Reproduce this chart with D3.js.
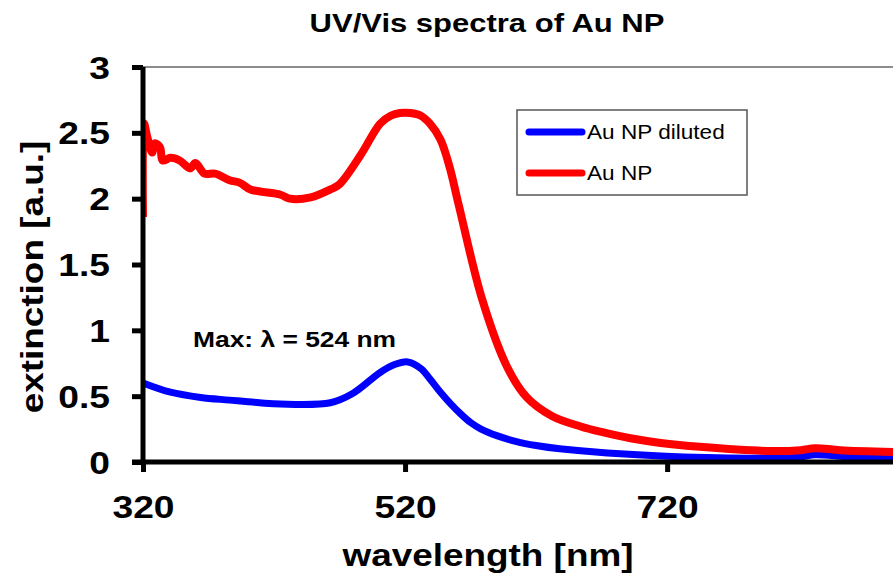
<!DOCTYPE html>
<html>
<head>
<meta charset="utf-8">
<script src="https://cdn.jsdelivr.net/npm/d3@7"></script>
<style>
  body { margin: 0; background: #fff; }
  svg { font-family: Arial, 'Liberation Sans', sans-serif; }
</style>
</head>
<body>
<div id="chart"></div>
<script>
// values

const dilutedNm  = [320, 341, 364, 386, 409, 425, 463, 480, 501, 512, 522, 532, 539, 547, 555, 563, 570, 578, 590, 605, 620, 638, 715, 799, 822, 833, 860, 893];
const dilutedExt = [0.60, 0.53, 0.49, 0.47, 0.45, 0.44, 0.45, 0.52, 0.68, 0.74, 0.76, 0.71, 0.63, 0.53, 0.44, 0.36, 0.30, 0.25, 0.20, 0.155, 0.125, 0.10, 0.045, 0.03, 0.04, 0.055, 0.04, 0.04];

const npNm  = [320, 320.8, 323, 327, 329, 333, 335, 341, 348, 356, 360, 367, 375, 386, 394, 402, 425, 432, 448, 463, 470, 486, 501, 509, 516, 524, 532, 539, 547, 554, 561, 579, 598, 613, 632, 654, 669, 692, 715, 745, 799, 822, 833, 852, 893];
const npExt = [1.86, 2.57, 2.48, 2.35, 2.42, 2.39, 2.29, 2.31, 2.29, 2.23, 2.27, 2.19, 2.19, 2.14, 2.12, 2.07, 2.03, 2.00, 2.01, 2.07, 2.11, 2.33, 2.57, 2.63, 2.65, 2.65, 2.63, 2.57, 2.45, 2.24, 1.95, 1.23, 0.72, 0.49, 0.35, 0.27, 0.23, 0.18, 0.145, 0.115, 0.083, 0.09, 0.105, 0.09, 0.076];

const seriesNames = ['Au NP diluted', 'Au NP'];
const seriesColors = ['#0000ff', '#ff0000'];
const xTicks = [320, 520, 720];
const yTicks = [0, 0.5, 1, 1.5, 2, 2.5, 3];

const width = 893, height = 574;
const plot = {left: 143, top: 67, right: 903, bottom: 462};

const svg = d3.select('#chart').append('svg')
  .attr('width', width)
  .attr('height', height);

const x = d3.scaleLinear().domain([320, 900]).range([plot.left, plot.right]);
const y = d3.scaleLinear().domain([0, 3]).range([plot.bottom, plot.top]);

//plot area frame (grey)
svg.append('rect')
  .attr('x', plot.left)
  .attr('y', plot.top)
  .attr('width', plot.right - plot.left)
  .attr('height', plot.bottom - plot.top)
  .style('fill', 'none')
  .style('stroke', '#8c8c8c')
  .style('stroke-width', 2);

svg.append('clipPath').attr('id', 'clip')
  .append('rect')
  .attr('x', plot.left)
  .attr('y', plot.top - 10)
  .attr('width', plot.right - plot.left)
  .attr('height', plot.bottom - plot.top + 20);

const line = d3.line()
  .x(d => x(d[0]))
  .y(d => y(d[1]))
  .curve(d3.curveCatmullRom.alpha(0.5));

const diluted = dilutedNm.map((d, i) => [d, dilutedExt[i]]);
const np = npNm.map((d, i) => [d, npExt[i]]);

const lines_g = svg.append('g').attr('clip-path', 'url(#clip)');

[diluted, np].forEach((data, i) => {
  lines_g.append('path')
    .datum(data)
    .attr('d', line)
    .style('fill', 'none')
    .style('stroke', seriesColors[i])
    .style('stroke-width', i === 1 ? 8 : 7)
    .style('stroke-linejoin', 'round');
});

//axes
const yAxis = svg.append('g')
  .attr('transform', `translate(${plot.left},0)`)
  .call(d3.axisLeft(y).tickValues(yTicks).tickSize(11).tickSizeOuter(0).tickFormat(d => d));

const xAxis = svg.append('g')
  .attr('transform', `translate(0,${plot.bottom})`)
  .call(d3.axisBottom(x).tickValues(xTicks).tickSize(10).tickSizeOuter(0).tickFormat(d => d));

[yAxis, xAxis].forEach(ax => {
  ax.select('.domain').style('stroke', '#000').style('stroke-width', 5);
  ax.selectAll('.tick line').style('stroke', '#000').style('stroke-width', 5);
  ax.selectAll('.tick text')
    .style('font-size', '31px')
    .style('font-weight', 'bold')
    .style('fill', '#000');
});

// bottom axis line also runs to the left tick end
xAxis.select('.domain').attr('d', `M${plot.left - 11},0H${width + 20}`);
yAxis.select('.domain').attr('d', `M0,${plot.bottom + 2}V${plot.top}`);

yAxis.selectAll('.tick text')
  .attr('x', -33 / 1.2)
  .attr('dy', '0.36em')
  .attr('transform', 'scale(1.2,1)');

xAxis.selectAll('.tick text')
  .attr('y', 56)
  .attr('dy', null)
  .attr('transform', 'scale(1.2,1)');

//title and axis titles
svg.append('text')
  .text('UV/Vis spectra of Au NP')
  .attr('text-anchor', 'middle')
  .attr('transform', 'translate(487,32) scale(1.24,1)')
  .style('font-size', '25px')
  .style('font-weight', 'bold');

svg.append('text')
  .text('wavelength [nm]')
  .attr('text-anchor', 'middle')
  .attr('transform', 'translate(488,566) scale(1.19,1)')
  .style('font-size', '31px')
  .style('font-weight', 'bold');

svg.append('text')
  .text('extinction [a.u.]')
  .attr('text-anchor', 'middle')
  .attr('transform', 'translate(43,277) rotate(-90) scale(1.19,1)')
  .style('font-size', '31px')
  .style('font-weight', 'bold');

//annotation
svg.append('text')
  .text('Max: λ = 524 nm')
  .attr('transform', 'translate(193,347) scale(1.2,1)')
  .style('font-size', '22px')
  .style('font-weight', 'bold');

//legend
const legend = svg.append('g');
legend.append('rect')
  .attr('x', 517)
  .attr('y', 110)
  .attr('width', 230)
  .attr('height', 85)
  .style('fill', '#fff')
  .style('stroke', '#555')
  .style('stroke-width', 1.5);

seriesNames.forEach((name, i) => {
  const ly = 132 + i * 41;
  legend.append('line')
    .attr('x1', 529).attr('x2', 582)
    .attr('y1', ly).attr('y2', ly)
    .style('stroke', seriesColors[i])
    .style('stroke-width', 7)
    .style('stroke-linecap', 'round');
  legend.append('text')
    .text(name)
    .attr('transform', `translate(587,${ly + 7}) scale(1.13,1)`)
    .style('font-size', '20px');
});
</script>
</body>
</html>
